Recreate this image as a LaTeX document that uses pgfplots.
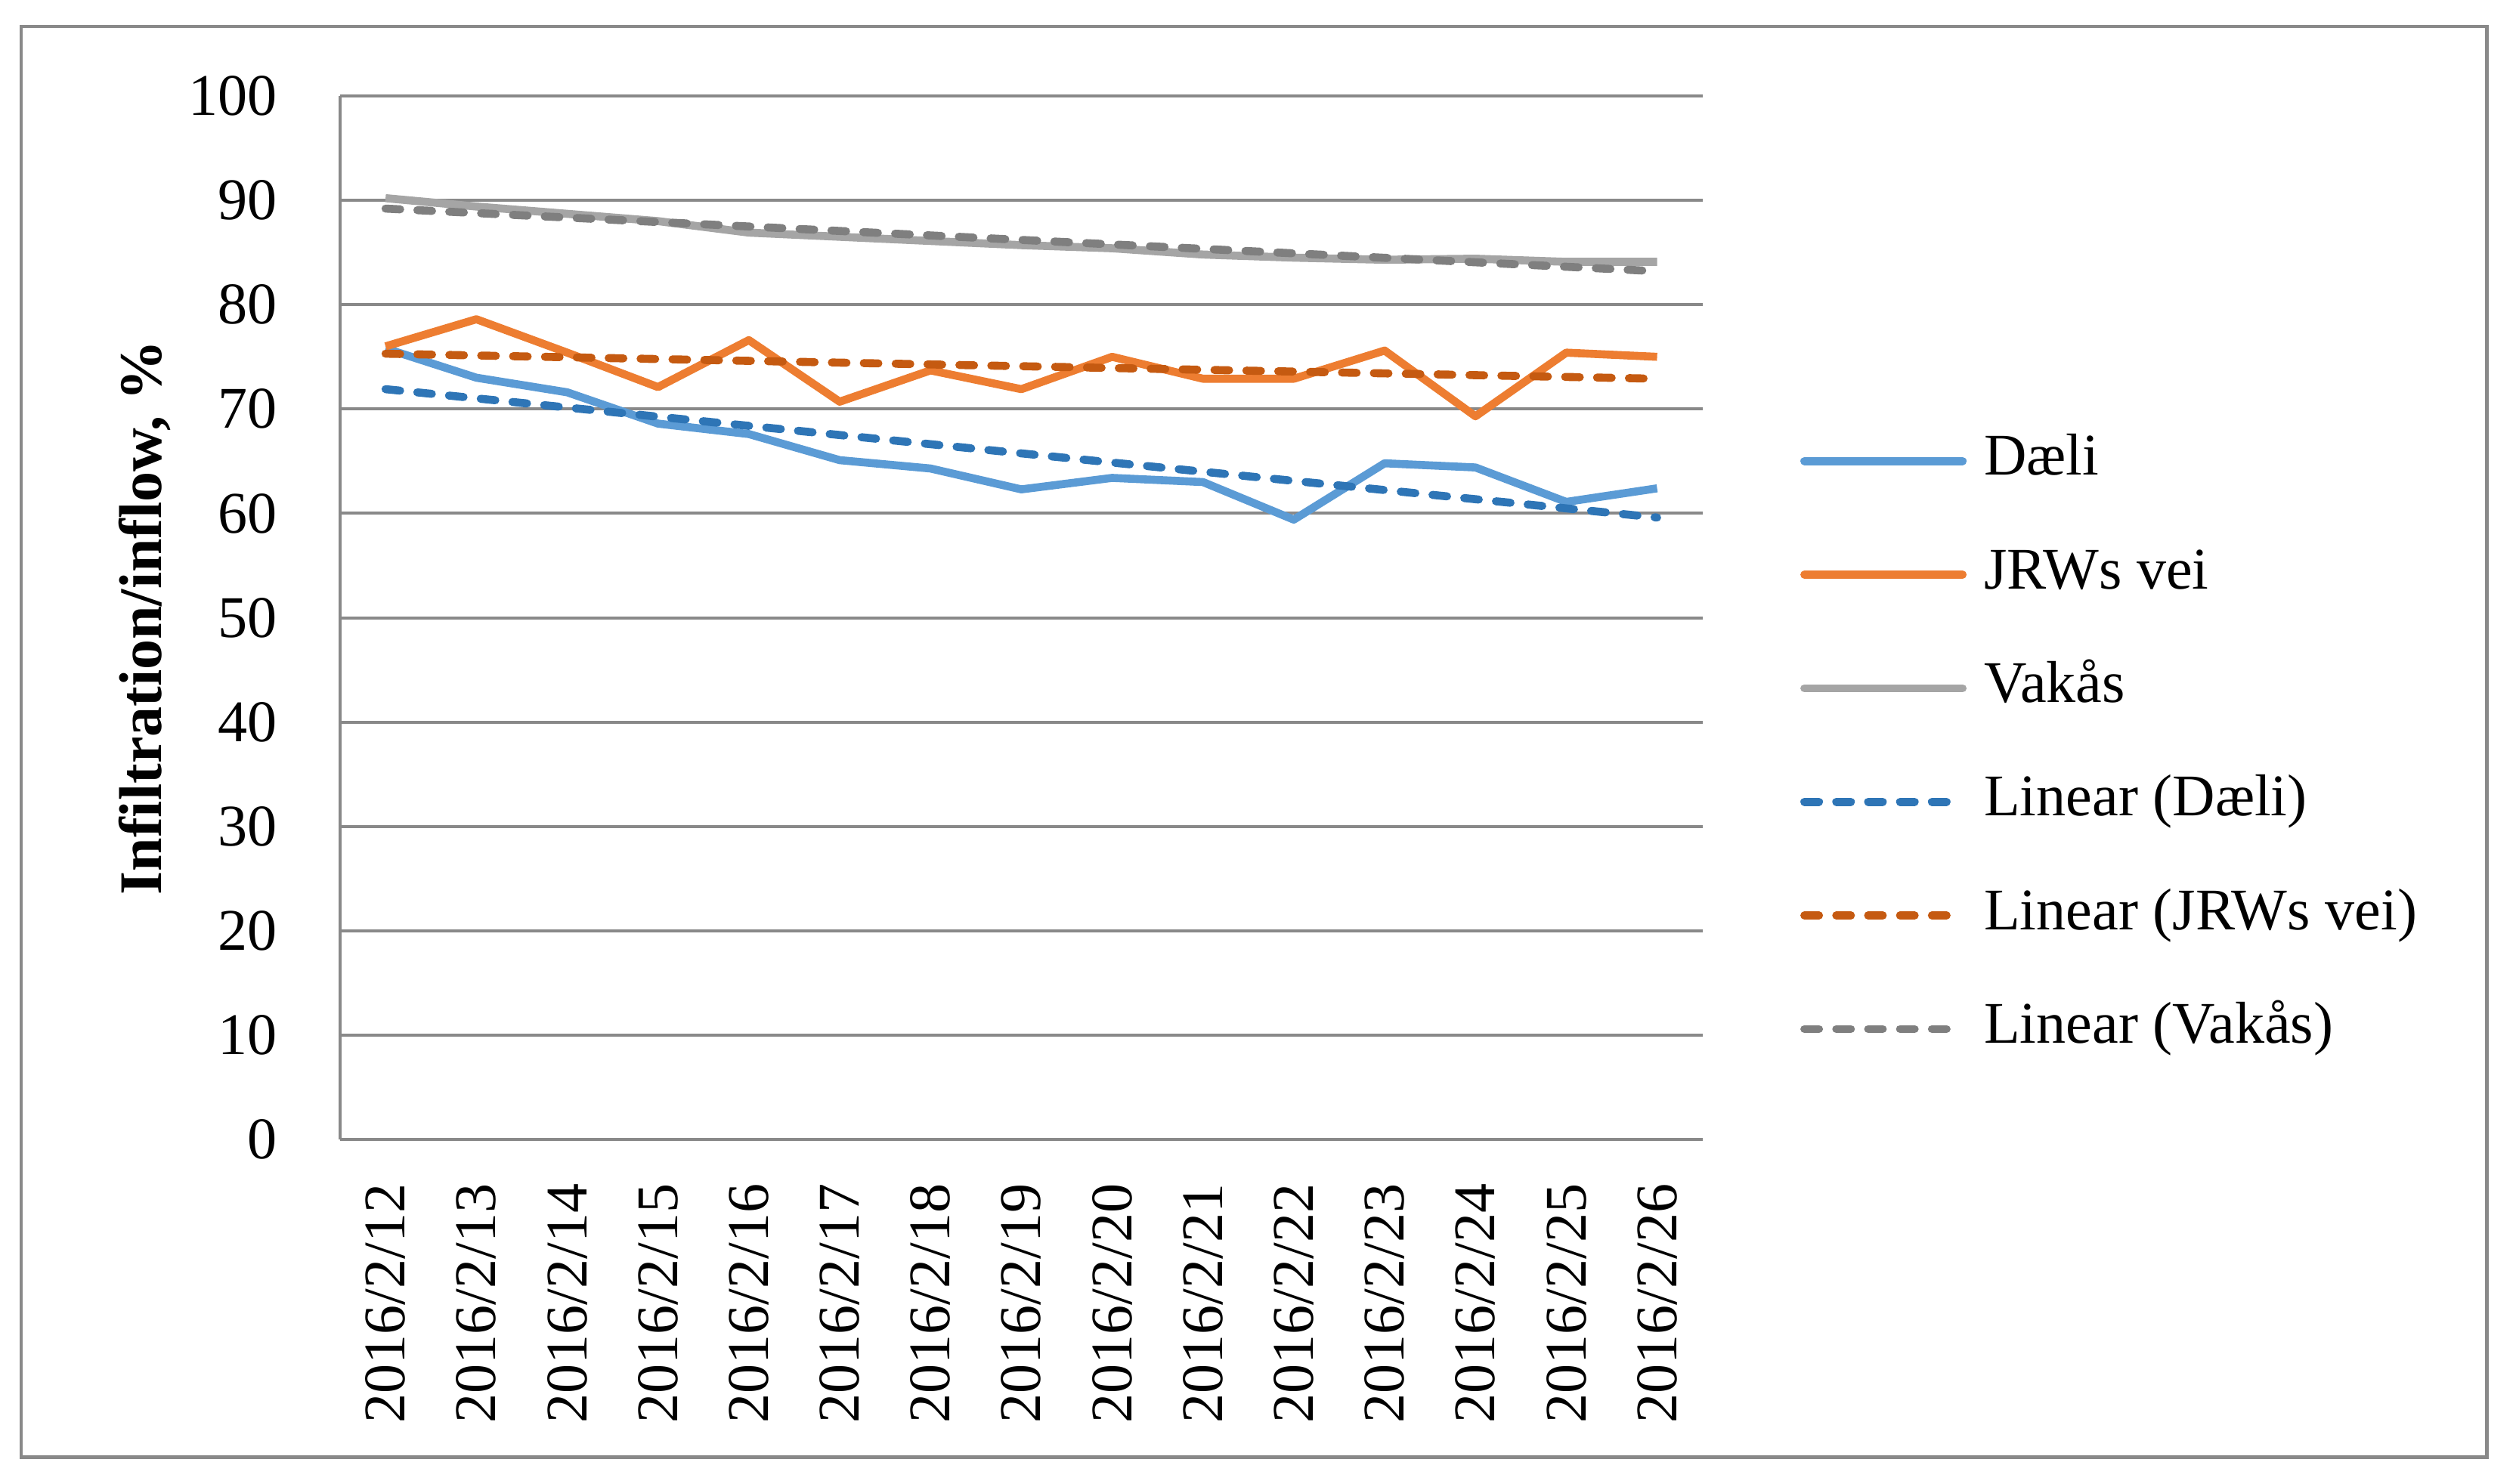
\documentclass[border=0pt,12pt]{standalone}
\usepackage{fontspec}
\setmainfont{Liberation Serif}
\usepackage{pgfplots}
\pgfplotsset{compat=1.18}
\usepackage{pgfplotstable}

\definecolor{cdaeli}{HTML}{5B9BD5}
\definecolor{cjrw}{HTML}{ED7D31}
\definecolor{cvakas}{HTML}{A5A5A5}
\definecolor{ctdaeli}{HTML}{2E75B6}
\definecolor{ctjrw}{HTML}{C55A11}
\definecolor{ctvakas}{HTML}{7F7F7F}
\definecolor{gridgray}{HTML}{898989}

\pgfplotstableread{
x daeli jrw vakas
0 75.8 76.0 90.2
1 73.0 78.6 89.4
2 71.6 75.4 88.7
3 68.6 72.1 88.0
4 67.6 76.6 86.9
5 65.1 70.7 86.5
6 64.3 73.7 86.1
7 62.3 71.9 85.7
8 63.4 75.0 85.4
9 63.0 72.9 84.8
10 59.4 72.9 84.5
11 64.8 75.6 84.3
12 64.4 69.3 84.4
13 61.1 75.4 84.1
14 62.4 75.0 84.1
}\maindata

\pgfplotstableread{
x tdaeli tjrw tvakas
0 71.9 75.3 89.2
14 59.6 72.9 83.2
}\trenddata

\begin{document}
\begin{tikzpicture}[font=\fontsize{12.5}{15}\selectfont]
\useasboundingbox (0,0) rectangle (532.6pt,314.1pt);
\draw[gridgray, line width=0.75pt] (4.5pt,5.6pt) rectangle (526.4pt,308.5pt);
\begin{axis}[
  at={(72pt,72.8pt)}, anchor=south west,
  scale only axis, width=288.4pt, height=221pt,
  xmin=-0.5, xmax=14.5, ymin=0, ymax=100,
  axis x line=bottom, axis y line=left,
  axis line style={gridgray, line width=0.65pt, -},
  xtick={0,...,14},
  xticklabels={2016/2/12,2016/2/13,2016/2/14,2016/2/15,2016/2/16,2016/2/17,2016/2/18,2016/2/19,2016/2/20,2016/2/21,2016/2/22,2016/2/23,2016/2/24,2016/2/25,2016/2/26},
  ytick={0,10,...,100},
  major tick length=0pt,
  ymajorgrids, major grid style={gridgray, line width=0.65pt},
  xticklabel style={rotate=90, anchor=east, inner sep=0pt},
  xticklabel shift=9.1pt,
  yticklabel style={anchor=east, inner sep=0pt},
  yticklabel shift=13.1pt,
  /pgf/number format/assume math mode=true,
  ylabel={Infiltration/inflow, \%},
  ylabel style={at={(axis description cs:-0.1432,0.5)}, anchor=center, font=\fontsize{12.8}{15}\selectfont\bfseries},
  legend cell align=left,
  legend style={draw=none, fill=none, at={(axis description cs:1.0718,0.675)}, anchor=north west,
    inner sep=0pt, outer sep=0pt, row sep=13.05pt, column sep=3.7pt,
    nodes={inner sep=0pt, text height=8.5pt, text depth=2.5pt}},
  legend image code/.code={\draw[#1, line cap=round] (0.8pt,0pt) -- (34.3pt,0pt);},
  every axis plot/.append style={line width=1.7pt},
]
\addplot[cdaeli, line join=round] table[x=x, y=daeli] {\maindata};
\addlegendentry{Dæli}
\addplot[cjrw, line join=round] table[x=x, y=jrw] {\maindata};
\addlegendentry{JRWs vei}
\addplot[cvakas, line join=round] table[x=x, y=vakas] {\maindata};
\addlegendentry{Vakås}
\addplot[ctdaeli, line cap=round, dash pattern=on 3.1pt off 3.65pt] table[x=x, y=tdaeli] {\trenddata};
\addlegendentry{Linear (Dæli)}
\addplot[ctjrw, line cap=round, dash pattern=on 3.1pt off 3.65pt] table[x=x, y=tjrw] {\trenddata};
\addlegendentry{Linear (JRWs vei)}
\addplot[ctvakas, line cap=round, dash pattern=on 3.1pt off 3.65pt] table[x=x, y=tvakas] {\trenddata};
\addlegendentry{Linear (Vakås)}
\end{axis}
\end{tikzpicture}
\end{document}
